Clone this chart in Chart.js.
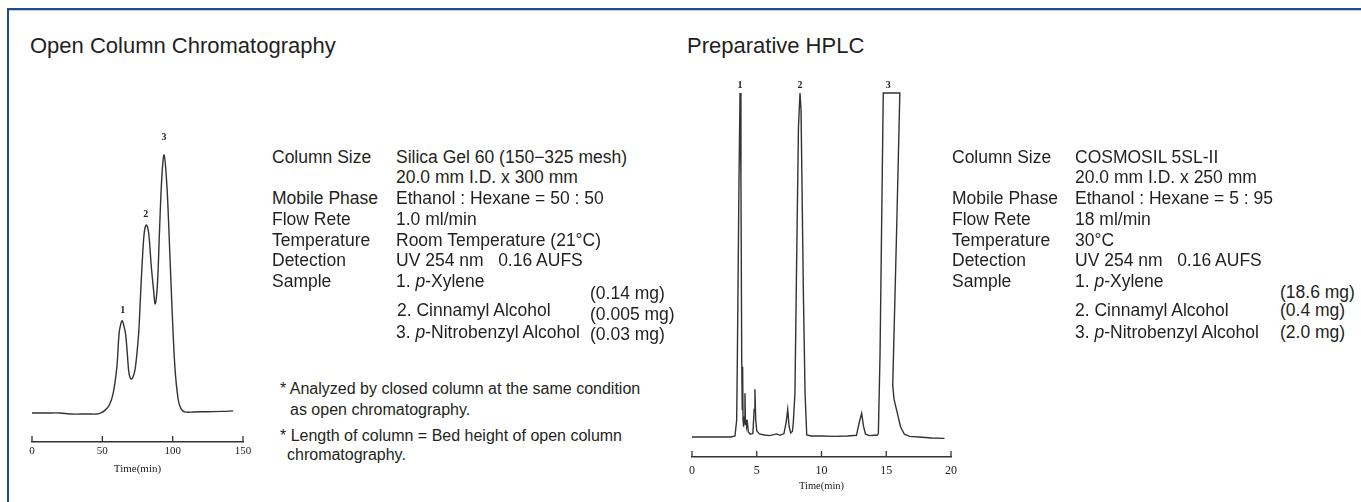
<!DOCTYPE html>
<html>
<head>
<meta charset="utf-8">
<script src="https://cdn.jsdelivr.net/npm/chart.js@4.4.0/dist/chart.umd.min.js"></script>
<style>
  body { margin: 0; width: 1361px; height: 502px; background: #fff; overflow: hidden; position: relative;
         font-family: "Liberation Sans", Arial, sans-serif; color: #231f20; }
  .frame { position: absolute; left: 7px; top: 8px; right: -10px; bottom: -10px;
           border-top: 2px solid #1d4c8a; border-left: 2px solid #1d4c8a; }
  .frame::before { content: ""; position: absolute; left: 0; right: 0; top: 0; height: 1px; background: #bcd0ea; }
  .title { position: absolute; font-size: 22px; line-height: 24px; white-space: nowrap; }
  .t { position: absolute; font-size: 17.5px; line-height: 20px; white-space: nowrap; }
  .note { position: absolute; font-size: 16px; line-height: 20px; white-space: nowrap; }
  .box { position: absolute; }
</style>
</head>
<body>
<div class="frame"></div>

<div class="title" style="left:30px; top:34px;">Open Column Chromatography</div>
<div class="title" style="left:687px; top:34px;">Preparative HPLC</div>

<div class="box" style="left:12px; top:120px;"><canvas id="left" width="245" height="370"></canvas></div>
<div class="box" style="left:672px; top:70px;"><canvas id="right" width="299" height="430"></canvas></div>

<!-- conditions, open column -->
<div class="t" style="left:272px; top:147px;">Column Size</div>
<div class="t" style="left:396px; top:147px;">Silica Gel 60 (150−325 mesh)</div>
<div class="t" style="left:396px; top:167px;">20.0 mm I.D. x 300 mm</div>
<div class="t" style="left:272px; top:188px;">Mobile Phase</div>
<div class="t" style="left:396px; top:188px;">Ethanol : Hexane = 50 : 50</div>
<div class="t" style="left:272px; top:209px;">Flow Rete</div>
<div class="t" style="left:396px; top:209px;">1.0 ml/min</div>
<div class="t" style="left:272px; top:230px;">Temperature</div>
<div class="t" style="left:396px; top:230px;">Room Temperature (21°C)</div>
<div class="t" style="left:272px; top:250px;">Detection</div>
<div class="t" style="left:396px; top:250px;">UV 254 nm &nbsp;&nbsp;0.16 AUFS</div>
<div class="t" style="left:272px; top:271px;">Sample</div>
<div class="t" style="left:396px; top:271px;">1. <i>p</i>-Xylene</div>
<div class="t" style="left:397px; top:300px;">2. Cinnamyl Alcohol</div>
<div class="t" style="left:396px; top:322px;">3. <i>p</i>-Nitrobenzyl Alcohol</div>
<div class="t" style="left:590px; top:283px;">(0.14 mg)</div>
<div class="t" style="left:590px; top:304px;">(0.005 mg)</div>
<div class="t" style="left:590px; top:324px;">(0.03 mg)</div>

<div class="note" style="left:280px; top:379px;">* Analyzed by closed column at the same condition</div>
<div class="note" style="left:290px; top:400px;">as open chromatography.</div>
<div class="note" style="left:280px; top:426px;">* Length of column = Bed height of open column</div>
<div class="note" style="left:287px; top:445px;">chromatography.</div>

<!-- conditions, preparative HPLC -->
<div class="t" style="left:952px; top:147px;">Column Size</div>
<div class="t" style="left:1075px; top:147px;">COSMOSIL 5SL-II</div>
<div class="t" style="left:1075px; top:167px;">20.0 mm I.D. x 250 mm</div>
<div class="t" style="left:952px; top:188px;">Mobile Phase</div>
<div class="t" style="left:1075px; top:188px;">Ethanol : Hexane = 5 : 95</div>
<div class="t" style="left:952px; top:209px;">Flow Rete</div>
<div class="t" style="left:1075px; top:209px;">18 ml/min</div>
<div class="t" style="left:952px; top:230px;">Temperature</div>
<div class="t" style="left:1075px; top:230px;">30°C</div>
<div class="t" style="left:952px; top:250px;">Detection</div>
<div class="t" style="left:1075px; top:250px;">UV 254 nm &nbsp;&nbsp;0.16 AUFS</div>
<div class="t" style="left:952px; top:271px;">Sample</div>
<div class="t" style="left:1075px; top:271px;">1. <i>p</i>-Xylene</div>
<div class="t" style="left:1075px; top:300px;">2. Cinnamyl Alcohol</div>
<div class="t" style="left:1075px; top:322px;">3. <i>p</i>-Nitrobenzyl Alcohol</div>
<div class="t" style="left:1280px; top:282px;">(18.6 mg)</div>
<div class="t" style="left:1280px; top:300px;">(0.4 mg)</div>
<div class="t" style="left:1280px; top:322px;">(2.0 mg)</div>

<script>
// open column chromatogram (time in min, detector signal, peak 3 = 100)
const openTime = [0, 10, 20, 27, 40, 46, 49, 52, 55, 57.7, 60.3, 61.9, 63.2, 64.2, 65.3, 66.5, 67.8,
  68.9, 70.5, 72, 73.5, 75.8, 77, 78.2, 79.8, 81.3, 82.9, 84.8, 86.4, 87.6, 89.2, 90.6, 92.3,
  93.9, 95.8, 97.4, 99.3, 101.6, 104, 106, 108.7, 115, 125, 135, 143];
const openSignal = [0.4, 0.4, 0.4, 0, 0, 0, 0.4, 1.5, 3.5, 8, 18, 31, 35, 36, 34, 31, 23,
  16, 13.5, 14.5, 18, 31, 44, 57, 70, 73, 70, 57, 48, 42.5, 50.5, 70, 91.5,
  100, 89, 70, 44, 18, 5.4, 2, 0.8, 0.8, 0.9, 1, 1.2];
const openTicks = [0, 50, 100, 150];
const openPeaks = [
  { label: "1", t: 64.5, y: 40 },
  { label: "2", t: 80.8, y: 77 },
  { label: "3", t: 93.9, y: 106.6 },
];

// preparative HPLC chromatogram (time in min, signal, full scale = 100)
const prepTime = [0, 1, 2, 3, 3.32, 3.45, 3.5, 3.63, 3.71, 3.78, 3.84, 3.88, 3.91, 3.94, 3.97, 4.0,
  4.04, 4.09, 4.13, 4.17, 4.22, 4.28, 4.35, 4.5, 4.7, 4.8, 4.86, 4.92, 5.0, 5.2, 5.6, 6.0, 6.54,
  6.8, 7.1, 7.28, 7.39, 7.5, 7.62, 7.75, 7.82, 7.95, 8.08, 8.22, 8.34, 8.42, 8.6, 8.73, 8.86,
  9.2, 10, 11, 12, 12.7, 12.9, 13.1, 13.25, 13.4, 13.7, 14.1, 14.3, 14.39, 14.52, 14.77,
  16.05, 15.8, 15.5, 15.6, 15.85, 16.1, 16.4, 16.8, 17.5, 18.5, 19.5];
const prepSignal = [0, 0, 0, 0, 0.3, 5, 22, 75, 100, 75, 22, 8, 20.4, 5, 6, 3,
  5, 12.7, 3.5, 5, 3, 4, 1.5, 0.8, 1, 8, 13.9, 5, 1.8, 0.9, 0.6, 0.4, 0.9,
  0.5, 1, 4.5, 8, 3, 1.2, 1.6, 4, 12.8, 51, 90, 100, 95, 42, 12.8, 0.6,
  0.3, 0.3, 0.2, 0.3, 0.5, 4, 6.9, 3, 0.8, 0.4, 0.5, 0.5, 1, 24, 100,
  100, 60, 15, 11, 7, 3, 0.8, 0.2, 0, -0.3, -0.4];
const prepTicks = [0, 5, 10, 15, 20];
const prepPeaks = [
  { label: "1", t: 3.71, y: 102.3 },
  { label: "2", t: 8.34, y: 102.3 },
  { label: "3", t: 15.15, y: 102.3 },
];

// draws the little upward tick marks on the time axis and the peak numbers
const marks = {
  id: "marks",
  afterDatasetsDraw(chart, args, opts) {
    const { ctx, scales: { x, y } } = chart;
    ctx.save();
    ctx.strokeStyle = "#333";
    ctx.lineWidth = 1.3;
    x.ticks.forEach((tk) => {
      const px = x.getPixelForValue(tk.value);
      ctx.beginPath();
      ctx.moveTo(px, x.top);
      ctx.lineTo(px, x.top - 6);
      ctx.stroke();
    });
    ctx.fillStyle = "#222";
    ctx.font = 'bold 10px "Liberation Serif", serif';
    ctx.textAlign = "center";
    ctx.textBaseline = "middle";
    opts.peaks.forEach((p) => {
      ctx.fillText(p.label, x.getPixelForValue(p.t), y.getPixelForValue(p.y));
    });
    ctx.restore();
  },
};

function chromatogram(id, time, signal, ticks, peaks, o) {
  const ctx = document.getElementById(id).getContext("2d");
  return new Chart(ctx, {
    type: "line",
    data: {
      datasets: [
        {
          data: time.map((t, i) => ({ x: t, y: signal[i] })),
          borderColor: "#333",
          borderWidth: 1.4,
          pointRadius: 0,
          tension: o.tension,
          fill: false,
        },
      ],
    },
    options: {
      responsive: false,
      animation: false,
      events: [],
      layout: { padding: o.padding },
      plugins: { legend: { display: false }, tooltip: { enabled: false }, marks: { peaks: peaks } },
      scales: {
        x: {
          type: "linear",
          min: ticks[0],
          max: ticks[ticks.length - 1],
          afterBuildTicks: (s) => { s.ticks = ticks.map((v) => ({ value: v })); },
          afterFit: (s) => { s.height = 38; s.paddingLeft = 0; s.paddingRight = 0; },
          grid: { display: false, drawTicks: false },
          border: { display: true, color: "#333", width: 1.4 },
          ticks: {
            padding: o.tickPad,
            color: "#222",
            maxRotation: 0,
            font: { family: '"Liberation Serif", serif', size: o.tickSize },
          },
          title: {
            display: true,
            text: "Time(min)",
            color: "#222",
            padding: { top: 0, bottom: o.titlePad },
            font: { family: '"Liberation Serif", serif', size: o.titleSize },
          },
        },
        y: { display: false, min: o.ymin, max: o.ymax },
      },
    },
    plugins: [marks],
  });
}

chromatogram("left", openTime, openSignal, openTicks, openPeaks, {
  tension: 0.35, padding: { left: 20, right: 14, top: 10, bottom: 10 },
  ymin: -10.8, ymax: 109.6, tickPad: 3, tickSize: 11, titleSize: 11, titlePad: 4,
});
chromatogram("right", prepTime, prepSignal, prepTicks, prepPeaks, {
  tension: 0, padding: { left: 20, right: 20, top: 10, bottom: 5 },
  ymin: -5.81, ymax: 103.8, tickPad: 7, tickSize: 12, titleSize: 10.5, titlePad: 2,
});
</script>
</body>
</html>
